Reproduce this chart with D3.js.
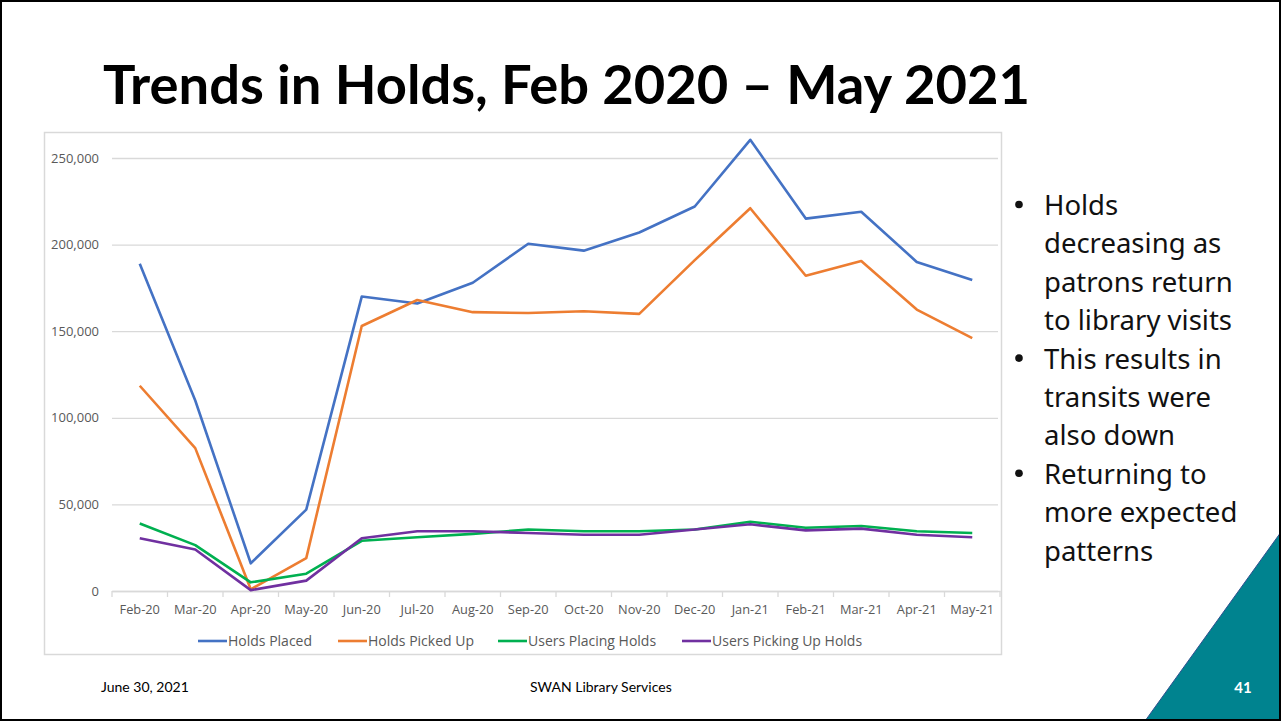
<!DOCTYPE html>
<html>
<head>
<meta charset="utf-8">
<script src="https://cdn.jsdelivr.net/npm/d3@7"></script>
<style>
  html, body { margin: 0; padding: 0; background: #fff; }
  svg { display: block; }
</style>
</head>
<body>
<svg id="slide" width="1281" height="721"></svg>
<script>
// Monthly hold activity, Feb 2020 – May 2021
const months = ["Feb-20","Mar-20","Apr-20","May-20","Jun-20","Jul-20","Aug-20","Sep-20",
                "Oct-20","Nov-20","Dec-20","Jan-21","Feb-21","Mar-21","Apr-21","May-21"];
const holdsPlaced      = [189000,110000,16000,47000,170000,166000,178000,200500,196500,207000,222000,260500,215000,219000,190000,179500];
const holdsPickedUp    = [118500,82500,1000,19000,153000,168000,161000,160500,161500,160000,191000,221000,182000,190500,162500,146000];
const usersPlacing     = [39000,26500,5000,10000,29000,31000,33000,35500,34500,34500,35500,40000,36500,37500,34500,33500];
const usersPickingUp   = [30500,24000,500,6000,30500,34500,34500,33500,32500,32500,35500,38500,35000,36000,32500,31000];
const seriesNames      = ["Holds Placed","Holds Picked Up","Users Placing Holds","Users Picking Up Holds"];
const yTicks           = [0,50000,100000,150000,200000,250000];
const bullets = [
  ["Holds", "decreasing as", "patrons return", "to library visits"],
  ["This results in", "transits were", "also down"],
  ["Returning to", "more expected", "patterns"]
];

const colors = ["#4472C4","#ED7D31","#00B050","#7030A0"];
const seriesData = [holdsPlaced, holdsPickedUp, usersPlacing, usersPickingUp];

const svg = d3.select("#slide");

// Slide title
svg.append("text")
  .attr("x", 103).attr("y", 104)
  .attr("font-family", "Lato, 'Open Sans', sans-serif")
  .attr("font-weight", "bold").attr("font-size", 54)
  .attr("textLength", 927).attr("lengthAdjust", "spacingAndGlyphs")
  .attr("fill", "#000")
  .text("Trends in Holds, Feb 2020 – May 2021");

// Chart frame
svg.append("rect")
  .attr("x", 44.5).attr("y", 132.5).attr("width", 957).attr("height", 522)
  .attr("fill", "#fff").attr("stroke", "#d9d9d9").attr("stroke-width", 1.5);

const plot = { left: 112, right: 1000, top: 158, bottom: 591 };

const x = d3.scaleBand().domain(months).range([plot.left, plot.right]);
const y = d3.scaleLinear().domain([0, 250000]).range([plot.bottom, plot.top]);

const chart = svg.append("g");
const labelFont = "'Open Sans', 'Noto Sans', sans-serif";

// Horizontal gridlines and y labels
const yAxis = d3.axisLeft(y).tickValues(yTicks).tickSize(-(plot.right - plot.left - 2))
  .tickFormat(d3.format(","));
const gy = chart.append("g").attr("transform", `translate(${plot.left},0)`).call(yAxis);
gy.select(".domain").remove();
gy.selectAll(".tick line").attr("stroke", "#d9d9d9").attr("stroke-width", 1.3);
gy.selectAll(".tick text")
  .attr("x", -13).attr("fill", "#595959")
  .attr("font-family", labelFont).attr("font-size", 13);

// Category axis with ticks between months
const gx = chart.append("g").attr("transform", `translate(0,${plot.bottom})`)
  .call(d3.axisBottom(x).tickSize(0).tickPadding(14));
gx.select(".domain").attr("stroke", "#d9d9d9").attr("stroke-width", 1.3);
gx.selectAll(".tick text").attr("fill", "#595959")
  .attr("font-family", labelFont).attr("font-size", 12.8);
chart.append("g").selectAll("line")
  .data(months.concat(["end"]))
  .join("line")
  .attr("x1", (d, i) => plot.left + i * x.step())
  .attr("x2", (d, i) => plot.left + i * x.step())
  .attr("y1", plot.bottom).attr("y2", plot.bottom + 6)
  .attr("stroke", "#d9d9d9").attr("stroke-width", 1.3);

// Series lines
const line = d3.line()
  .x((d, i) => x(months[i]) + x.bandwidth() / 2)
  .y(d => y(d));
chart.append("g").selectAll("path")
  .data(seriesData)
  .join("path")
  .attr("d", line)
  .attr("fill", "none")
  .attr("stroke", (d, i) => colors[i])
  .attr("stroke-width", 2.6)
  .attr("stroke-linejoin", "round");

// Legend
const legendX = [198, 338, 498, 682];
const legend = chart.append("g").attr("transform", "translate(0,641)");
const items = legend.selectAll("g").data(seriesNames).join("g")
  .attr("transform", (d, i) => `translate(${legendX[i]},0)`);
items.append("line").attr("x1", 0).attr("x2", 29).attr("y1", 0).attr("y2", 0)
  .attr("stroke", (d, i) => colors[i]).attr("stroke-width", 2.6);
items.append("text").attr("x", 30).attr("y", 5)
  .attr("fill", "#595959")
  .attr("font-family", labelFont).attr("font-size", 14)
  .text(d => d);

// Bullet notes
const notes = svg.append("g")
  .attr("font-family", "'Noto Sans', 'Open Sans', sans-serif").attr("font-size", 27.5).attr("fill", "#111");
let lineY = 215;
bullets.forEach(group => {
  notes.append("circle").attr("cx", 1019).attr("cy", lineY - 10.5).attr("r", 3.8).attr("fill", "#111");
  group.forEach(t => {
    notes.append("text").attr("x", 1044).attr("y", lineY).text(t);
    lineY += 38.4;
  });
});

// Footer
const footer = svg.append("g")
  .attr("font-family", "Lato, 'Open Sans', sans-serif").attr("font-size", 14).attr("fill", "#000");
footer.append("text").attr("x", 101).attr("y", 692).text("June 30, 2021");
footer.append("text").attr("x", 530).attr("y", 692).text("SWAN Library Services");

// Corner triangle and slide number
svg.append("path")
  .attr("d", "M1145,721 L1281,532 L1281,721 Z")
  .attr("fill", "#00838F").attr("stroke", "#2f4f8f").attr("stroke-width", 1);
svg.append("text")
  .attr("x", 1243).attr("y", 693).attr("text-anchor", "middle")
  .attr("font-family", "Lato, 'Open Sans', sans-serif").attr("font-weight", "bold")
  .attr("font-size", 15).attr("fill", "#fff").text("41");

// Slide border
svg.append("rect")
  .attr("x", 1).attr("y", 1).attr("width", 1279).attr("height", 719)
  .attr("fill", "none").attr("stroke", "#000").attr("stroke-width", 2);
</script>
</body>
</html>
